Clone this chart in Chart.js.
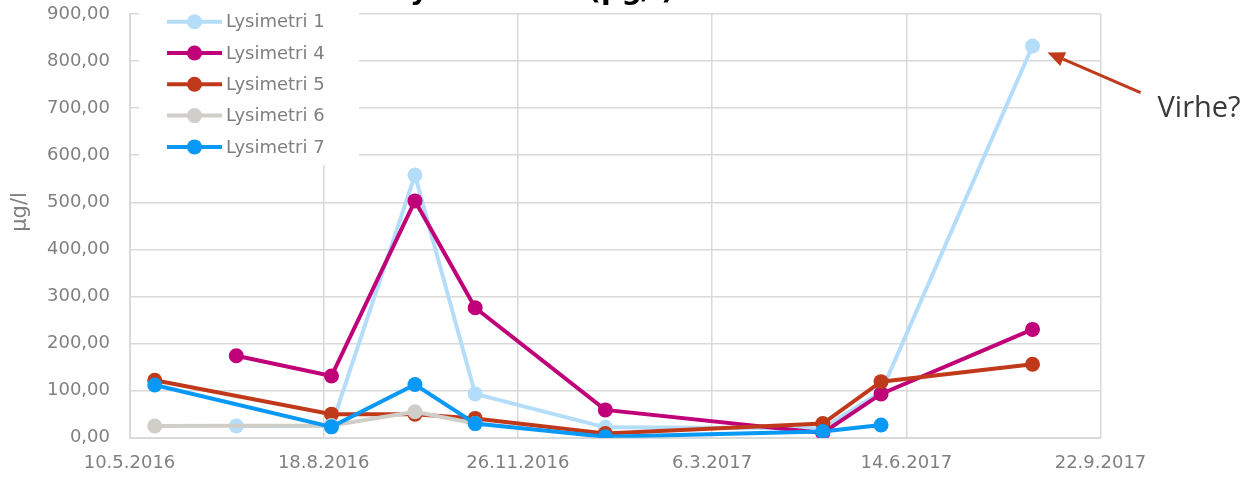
<!DOCTYPE html>
<html><head><meta charset="utf-8">
<script src="https://cdn.jsdelivr.net/npm/chart.js@4/dist/chart.umd.min.js"></script>
<style>html,body{margin:0;padding:0;background:#fff;}#wrap{width:1250px;height:477px;position:relative;}</style>
</head><body><div id="wrap"><canvas id="c" width="1250" height="477"></canvas></div>
<script>
// ---- data ----
const sampleDates = ['2016-05-23','2016-07-04','2016-08-22','2016-10-04','2016-11-04','2017-01-10','2017-05-02','2017-06-01','2017-08-18'];
const lysimetri1 = [null, 25, 25, 558, 93, 22, 20, 97, 832];
const lysimetri4 = [null, 174, 131, 503, 276, 59, 10, 93, 230];
const lysimetri5 = [122, null, 50, 50, 41, 9, 30, 119, 156];
const lysimetri6 = [25, null, 26, 55, 30, null, null, null, null];
const lysimetri7 = [112, null, 23, 113, 30, 2, 13, 27, null];
const seriesNames = ['Lysimetri 1','Lysimetri 4','Lysimetri 5','Lysimetri 6','Lysimetri 7'];
const seriesColors = ['#B4DDFA','#C00078','#C0391B','#D0CEC9','#0899F6'];
const xTickStart = '2016-05-10', xTickEnd = '2017-09-22', xTickStepDays = 100;
const yMin = 0, yMax = 900, yStep = 100;
const chartTitle = 'Lysimetrien (µg/l)';
const yAxisTitle = 'µg/l';
const annotationText = 'Virhe?';

const toDay = s => { const [y,m,d] = s.split('-').map(Number); return Date.UTC(y, m-1, d) / 864e5; };
const fmtDay = v => { const d = new Date(Math.round(v) * 864e5); return d.getUTCDate() + '.' + (d.getUTCMonth()+1) + '.' + d.getUTCFullYear(); };
const allSeries = [lysimetri1, lysimetri4, lysimetri5, lysimetri6, lysimetri7];

const datasets = allSeries.map((vals, i) => ({
  label: seriesNames[i],
  data: sampleDates.map((d, j) => ({x: toDay(d), y: vals[j]})),
  borderColor: seriesColors[i],
  backgroundColor: seriesColors[i],
  pointBackgroundColor: seriesColors[i],
  pointBorderWidth: 0,
  pointRadius: 7.5,
  borderWidth: 4,
  spanGaps: true,
  tension: 0,
  order: allSeries.length - i
}));

const FONT = '"DejaVu Sans", Verdana, sans-serif';
const GRID = '#D9D9D9';
const LABEL = '#808080';

const decorations = {
  id: 'decorations',
  beforeDatasetsDraw(chart) {
    const ctx = chart.ctx, a = chart.chartArea;
    ctx.save();
    // legend with white background
    ctx.fillStyle = '#fff';
    ctx.fillRect(a.left + 9.5, 0, 220, a.top + 151);
    chart.data.datasets.forEach((ds, i) => {
      const y = a.top + 7.7 + i * 31.3;
      ctx.strokeStyle = ds.borderColor; ctx.lineWidth = 4; ctx.lineCap = 'butt';
      ctx.beginPath(); ctx.moveTo(a.left + 37.5, y); ctx.lineTo(a.left + 92.5, y); ctx.stroke();
      ctx.fillStyle = ds.borderColor;
      ctx.beginPath(); ctx.arc(a.left + 65, y, 7.5, 0, Math.PI * 2); ctx.fill();
      ctx.fillStyle = LABEL; ctx.font = '18px ' + FONT; ctx.textAlign = 'left'; ctx.textBaseline = 'middle';
      ctx.fillText(ds.label, a.left + 96.5, y + 1);
    });
    // y axis title
    ctx.translate(21, 212); ctx.rotate(-Math.PI / 2);
    ctx.fillStyle = LABEL; ctx.font = '21px ' + FONT; ctx.textAlign = 'center'; ctx.textBaseline = 'middle';
    ctx.fillText(yAxisTitle, 0, 0);
    ctx.restore();
  },
  afterDraw(chart) {
    const ctx = chart.ctx;
    ctx.save();
    // title (clipped at top)
    ctx.fillStyle = '#000'; ctx.font = 'bold 28px ' + FONT; ctx.textAlign = 'left'; ctx.textBaseline = 'alphabetic';
    ctx.fillText(chartTitle, 394, -1);
    // annotation arrow pointing to last point of Lysimetri 1
    const meta = chart.getDatasetMeta(0);
    const p = meta.data[meta.data.length - 1];
    const tip = {x: p.x + 15, y: p.y + 6.5};
    const tail = {x: p.x + 108, y: p.y + 46.5};
    const col = '#C0391B';
    const ang = Math.atan2(tip.y - tail.y, tip.x - tail.x);
    const hl = 17, hw = 7.5;
    const bx = tip.x - hl * Math.cos(ang), by = tip.y - hl * Math.sin(ang);
    ctx.strokeStyle = col; ctx.lineWidth = 3;
    ctx.beginPath(); ctx.moveTo(tail.x, tail.y); ctx.lineTo(bx, by); ctx.stroke();
    ctx.fillStyle = col;
    ctx.beginPath(); ctx.moveTo(tip.x, tip.y);
    ctx.lineTo(bx + hw * Math.sin(ang), by - hw * Math.cos(ang));
    ctx.lineTo(bx - hw * Math.sin(ang), by + hw * Math.cos(ang));
    ctx.closePath(); ctx.fill();
    ctx.fillStyle = '#3A3A3A'; ctx.font = '29px "Open Sans", sans-serif'; ctx.textAlign = 'left'; ctx.textBaseline = 'alphabetic';
    ctx.fillText(annotationText, tail.x + 17, tail.y + 24);
    ctx.restore();
  }
};

new Chart(document.getElementById('c'), {
  type: 'line',
  data: { datasets },
  options: {
    responsive: false, animation: false, devicePixelRatio: 1,
    layout: { padding: { top: 14, right: 149.5, left: 0, bottom: 0 } },
    plugins: { legend: { display: false }, title: { display: false }, tooltip: { enabled: false } },
    scales: {
      x: {
        type: 'linear', min: toDay(xTickStart), max: toDay(xTickEnd),
        afterFit(s) { s.height = 39.3; s.paddingLeft = 0; s.paddingRight = 0; },
        ticks: { stepSize: xTickStepDays, callback: v => fmtDay(v), color: LABEL, font: { family: FONT, size: 18 }, padding: 15, maxRotation: 0, autoSkip: false },
        grid: { color: GRID, lineWidth: 1.5, drawTicks: false },
        border: { color: GRID, width: 2 }
      },
      y: {
        min: yMin, max: yMax,
        afterFit(s) { s.width = 129.5; s.paddingTop = 0; s.paddingBottom = 0; },
        ticks: { stepSize: yStep, callback: v => v.toFixed(2).replace('.', ','), color: LABEL, font: { family: FONT, size: 18 }, padding: 19.5 },
        grid: { color: GRID, lineWidth: 1.5, drawTicks: false },
        border: { color: GRID, width: 2 }
      }
    }
  },
  plugins: [decorations]
});
</script></body></html>
